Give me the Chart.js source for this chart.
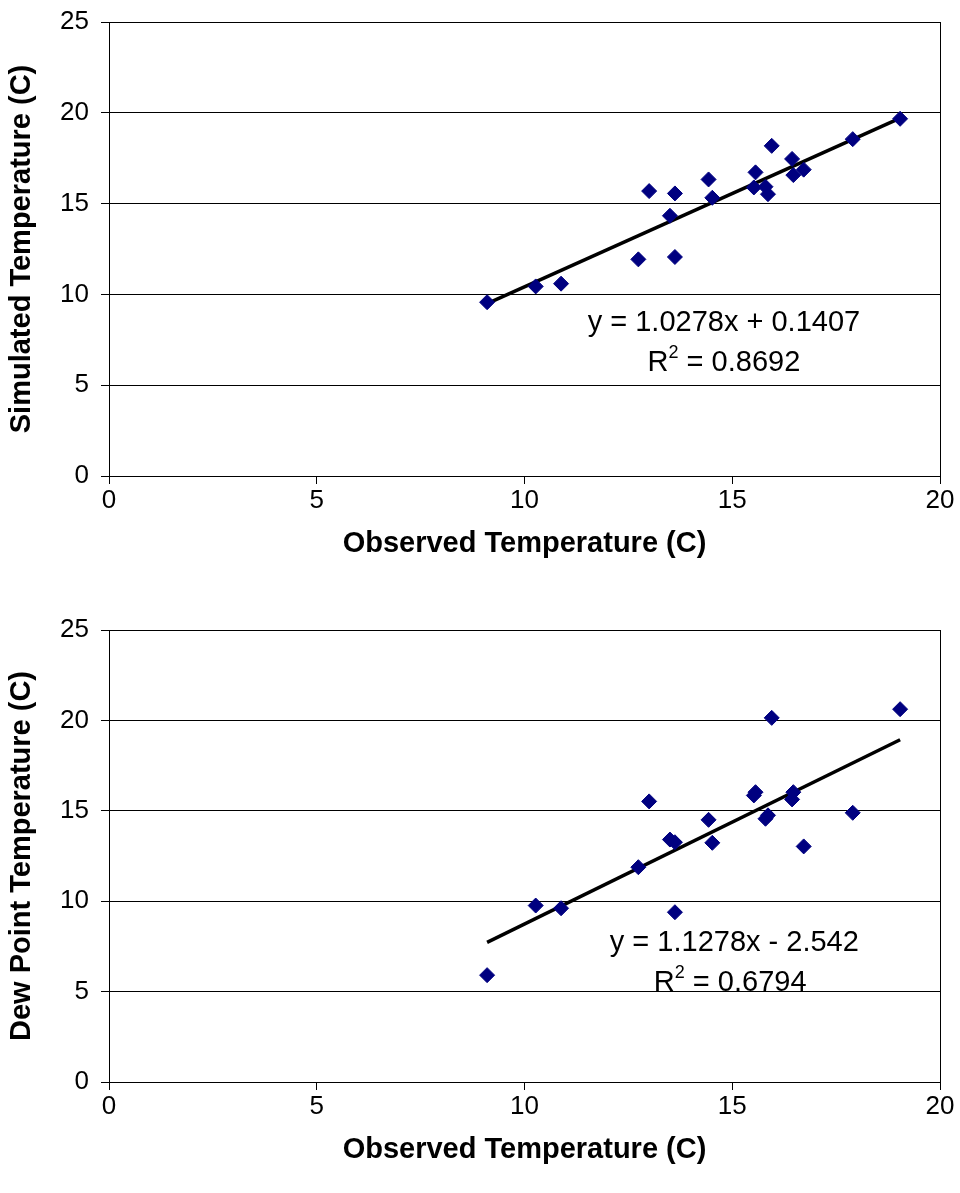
<!DOCTYPE html>
<html>
<head>
<meta charset="utf-8">
<script src="https://cdn.jsdelivr.net/npm/chart.js@4/dist/chart.umd.min.js"></script>
<style>
  body { margin: 0; background: #fff; }
  .box { position: relative; width: 960px; }
</style>
</head>
<body>
<div class="box" style="height:600px"><canvas id="simChart"></canvas></div>
<div class="box" style="height:593px"><canvas id="dewChart"></canvas></div>
<script>
// observed temperatures (shared x values)
var observed = [9.1, 10.27, 10.88, 12.74, 13.0, 13.5, 13.62, 13.62, 14.43, 14.52,
                15.52, 15.56, 15.8, 15.86, 15.95, 16.44, 16.47, 16.72, 17.9, 19.04];
// simulated temperatures (top chart)
var simulated = [9.57, 10.44, 10.59, 11.93, 15.69, 14.33, 15.56, 12.06, 16.33, 15.32,
                 15.89, 16.72, 15.93, 15.52, 18.18, 17.46, 16.57, 16.87, 18.55, 19.67];
// dew point temperatures (bottom chart)
var dewPoint = [5.91, 9.76, 9.61, 11.88, 15.52, 13.41, 9.39, 13.26, 14.5, 13.23,
                15.85, 16.03, 14.56, 14.75, 20.14, 15.63, 16.03, 13.03, 14.89, 20.62];

var xTicks = [0, 5, 10, 15, 20];
var yTicks = [0, 5, 10, 15, 20, 25];

// trendline fits as printed on the chart
var simFit = { slope: 1.0278, icpt: 0.1407, r2: '0.8692', eq: 'y = 1.0278x + 0.1407' };
var dewFit = { slope: 1.1278, icpt: -2.542, r2: '0.6794', eq: 'y = 1.1278x - 2.542' };

var FONT = "'Liberation Sans', Arial, sans-serif";

function points(xs, ys) {
  return xs.map(function (x, i) { return { x: x, y: ys[i] }; });
}

function trend(fit) {
  var lo = Math.min.apply(null, observed), hi = Math.max.apply(null, observed);
  return [{ x: lo, y: fit.slope * lo + fit.icpt }, { x: hi, y: fit.slope * hi + fit.icpt }];
}

// box round plot area + the trendline equation text
var extras = {
  id: 'extras',
  afterDraw: function (chart, args, opts) {
    var ctx = chart.ctx, a = chart.chartArea;
    var xs = chart.scales.x, ys = chart.scales.y;
    ctx.save();
    ctx.strokeStyle = '#000';
    ctx.lineWidth = 1;
    ctx.beginPath();
    ctx.moveTo(a.right + 0.5, a.top);
    ctx.lineTo(a.right + 0.5, a.bottom);
    ctx.stroke();

    ctx.fillStyle = '#000';
    ctx.textBaseline = 'middle';
    ctx.textAlign = 'center';
    ctx.font = '29px ' + FONT;
    ctx.fillText(opts.eq, xs.getPixelForValue(opts.ex), ys.getPixelForValue(opts.ey1));

    // R² line with superscript
    var cx = xs.getPixelForValue(opts.rx), cy = ys.getPixelForValue(opts.ey2);
    ctx.textAlign = 'left';
    var wR = ctx.measureText('R').width;
    var rest = ' = ' + opts.r2;
    var wRest = ctx.measureText(rest).width;
    ctx.font = '18px ' + FONT;
    var w2 = ctx.measureText('2').width;
    var x0 = cx - (wR + w2 + wRest) / 2;
    ctx.font = '29px ' + FONT;
    ctx.fillText('R', x0, cy);
    ctx.fillText(rest, x0 + wR + w2, cy);
    ctx.font = '18px ' + FONT;
    ctx.fillText('2', x0 + wR, cy - 10);
    ctx.restore();
  }
};

function makeChart(id, ys, fit, yTitle, padTop, padBottom, textPos) {
  return new Chart(document.getElementById(id), {
    type: 'scatter',
    data: {
      datasets: [
        {
          data: points(observed, ys),
          pointStyle: 'rectRot',
          pointRadius: 7.5,
          backgroundColor: '#000080',
          borderColor: '#000080',
          borderWidth: 1
        },
        {
          data: trend(fit),
          showLine: true,
          pointRadius: 0,
          borderColor: '#000',
          borderWidth: 3.5
        }
      ]
    },
    options: {
      responsive: true,
      maintainAspectRatio: false,
      animation: false,
      layout: { padding: { top: padTop, right: 20, bottom: padBottom, left: 0 } },
      plugins: {
        legend: { display: false },
        tooltip: { enabled: false },
        extras: Object.assign({ eq: fit.eq, r2: fit.r2 }, textPos)
      },
      scales: {
        x: {
          type: 'linear',
          min: 0, max: 20,
          afterBuildTicks: function (s) { s.ticks = xTicks.map(function (v) { return { value: v }; }); },
          grid: { drawOnChartArea: false, drawTicks: true, tickLength: 8, color: '#000' },
          border: { color: '#000', width: 1 },
          ticks: { color: '#000', padding: 1, font: { family: FONT, size: 26 } },
          title: {
            display: true, text: 'Observed Temperature (C)', color: '#000',
            padding: { top: 9, bottom: 4 },
            font: { family: FONT, size: 29, weight: 'bold' }
          }
        },
        y: {
          min: 0, max: 25,
          afterBuildTicks: function (s) { s.ticks = yTicks.map(function (v) { return { value: v }; }); },
          afterFit: function (s) { s.width = 109; s.paddingTop = 0; s.paddingBottom = 0; },
          grid: { color: '#000', tickLength: 8 },
          border: { color: '#000', width: 1 },
          ticks: { color: '#000', padding: 12, font: { family: FONT, size: 26 } },
          title: {
            display: true, text: yTitle, color: '#000',
            padding: { top: 5, bottom: 0 },
            font: { family: FONT, size: 29, weight: 'bold' }
          }
        }
      }
    },
    plugins: [extras]
  });
}

makeChart('simChart', simulated, simFit, 'Simulated Temperature (C)', 22, 35,
          { ex: 14.8, rx: 14.8, ey1: 8.4, ey2: 6.2 });
makeChart('dewChart', dewPoint, dewFit, 'Dew Point Temperature (C)', 30, 22,
          { ex: 15.05, rx: 14.95, ey1: 7.7, ey2: 5.5 });
</script>
</body>
</html>
